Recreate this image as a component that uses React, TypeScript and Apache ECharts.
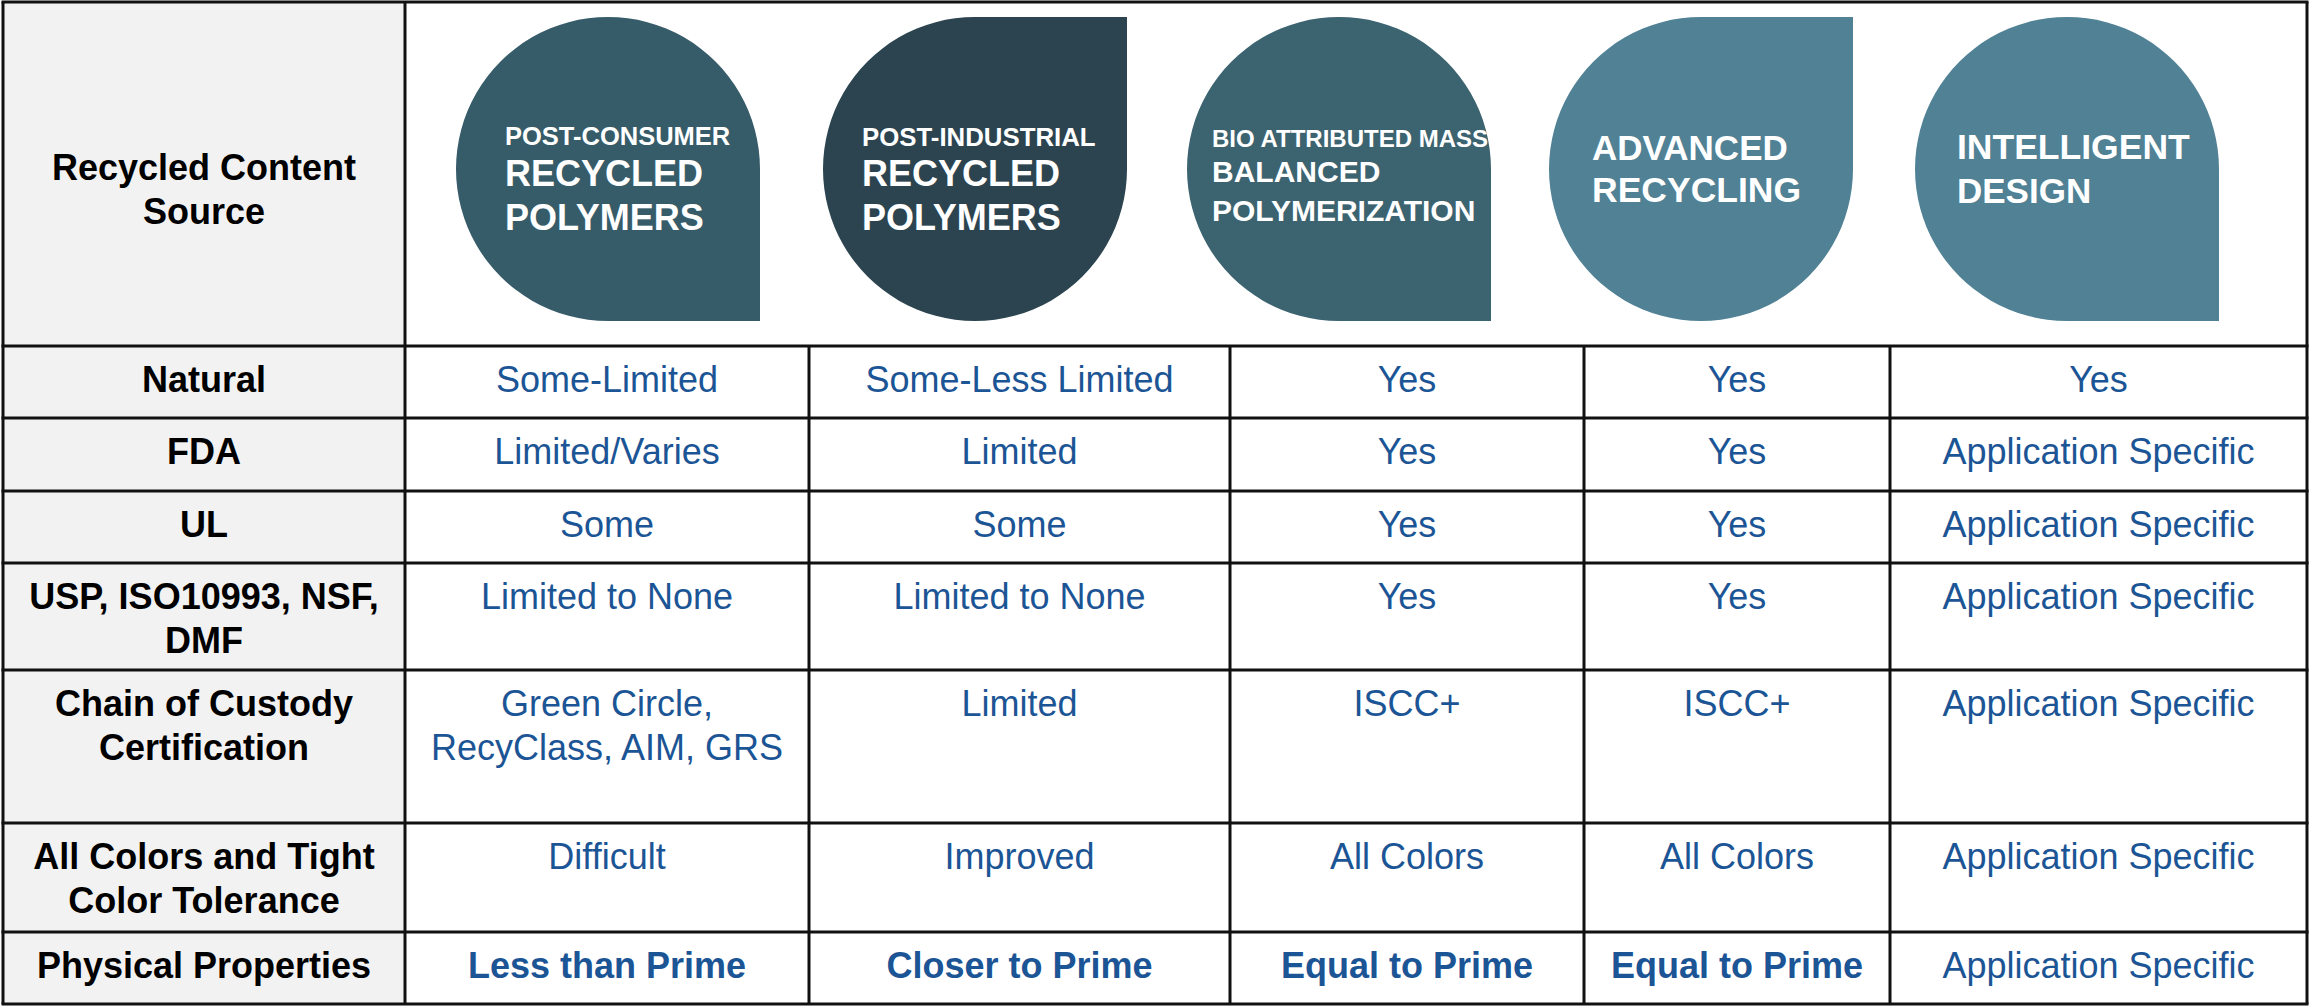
import React, { useEffect, useRef } from "react";
import * as echarts from "echarts";

const headerTitle = ["Recycled Content", "Source"];

const sourceTitles: string[][] = [
  ["POST-CONSUMER", "RECYCLED", "POLYMERS"],
  ["POST-INDUSTRIAL", "RECYCLED", "POLYMERS"],
  ["BIO ATTRIBUTED MASS", "BALANCED", "POLYMERIZATION"],
  ["ADVANCED", "RECYCLING"],
  ["INTELLIGENT", "DESIGN"],
];

const rowLabels: string[][] = [
  ["Natural"],
  ["FDA"],
  ["UL"],
  ["USP, ISO10993, NSF,", "DMF"],
  ["Chain of Custody", "Certification"],
  ["All Colors and Tight", "Color Tolerance"],
  ["Physical Properties"],
];

const postConsumer: string[][] = [
  ["Some-Limited"], ["Limited/Varies"], ["Some"], ["Limited to None"],
  ["Green Circle,", "RecyClass, AIM, GRS"], ["Difficult"], ["Less than Prime"],
];
const postIndustrial: string[][] = [
  ["Some-Less Limited"], ["Limited"], ["Some"], ["Limited to None"],
  ["Limited"], ["Improved"], ["Closer to Prime"],
];
const bioMassBalance: string[][] = [
  ["Yes"], ["Yes"], ["Yes"], ["Yes"], ["ISCC+"], ["All Colors"], ["Equal to Prime"],
];
const advancedRecycling: string[][] = [
  ["Yes"], ["Yes"], ["Yes"], ["Yes"], ["ISCC+"], ["All Colors"], ["Equal to Prime"],
];
const intelligentDesign: string[][] = [
  ["Yes"], ["Application Specific"], ["Application Specific"], ["Application Specific"],
  ["Application Specific"], ["Application Specific"], ["Application Specific"],
];
const columnValues = [postConsumer, postIndustrial, bioMassBalance, advancedRecycling, intelligentDesign];
const boldLastRow = [true, true, true, true, false];

// layout
const colX = [3, 405, 809, 1230, 1584, 1890, 2307];
const rowY = [2, 346, 418, 491, 563, 670, 823, 932, 1004];
const shapeCx = [608, 975, 1339, 1701, 2067];
const shapeCorner = ["br", "tr", "br", "tr", "br"];
const shapeColors = ["#365b69", "#2c4450", "#3c6370", "#508195", "#508195"];
const shapeTextX = [
  [505, 505, 505],
  [862, 862, 862],
  [1212, 1212, 1212],
  [1592, 1592],
  [1957, 1957],
];
const shapeTextY = [
  [136, 173, 217],
  [137, 173, 217],
  [138, 171, 210],
  [147, 190],
  [147, 190],
];
const shapeTextSize = [
  [25.5, 36, 36],
  [25.8, 36, 36],
  [24, 30, 30],
  [35, 35.5],
  [35.5, 35],
];

const FONT = "'Liberation Sans', Arial, Helvetica, sans-serif";
const BLUE = "#1c5595";

function txt(text: string, x: number, y: number, size: number, bold: boolean, fill: string, align = "center") {
  return {
    type: "text",
    silent: true,
    z: 10,
    style: {
      text,
      x,
      y,
      fill,
      fontSize: size,
      fontWeight: bold ? "bold" : "normal",
      fontFamily: FONT,
      align,
      verticalAlign: "middle",
      textAlign: align,
      textVerticalAlign: "middle",
    },
  };
}

export default function App() {
  const ref = useRef<HTMLDivElement>(null);
  useEffect(() => {
    document.body.style.margin = "0";
    if (!ref.current) return;
    const chart = echarts.init(ref.current, undefined, { renderer: "svg" });
    const els: any[] = [];
    const W = 2310, H = 1006;
    els.push({ type: "rect", shape: { x: 0, y: 0, width: W, height: H }, style: { fill: "#ffffff" }, z: 0 });
    // grey first column
    els.push({
      type: "rect",
      shape: { x: colX[0], y: rowY[0], width: colX[1] - colX[0], height: rowY[rowY.length - 1] - rowY[0] },
      style: { fill: "#f2f2f2" },
      z: 1,
    });
    // header shapes
    const r = 152, cy = 169;
    shapeCx.forEach((cx, i) => {
      const fill = shapeColors[i];
      els.push({ type: "circle", shape: { cx, cy, r }, style: { fill }, z: 2 });
      const ry = shapeCorner[i] === "br" ? cy : cy - r;
      els.push({ type: "rect", shape: { x: cx, y: ry, width: r, height: r }, style: { fill }, z: 2 });
      sourceTitles[i].forEach((t, j) => {
        els.push(txt(t, shapeTextX[i][j], shapeTextY[i][j], shapeTextSize[i][j], true, "#ffffff", "left"));
      });
    });
    // header title
    const c0 = (colX[0] + colX[1]) / 2;
    headerTitle.forEach((t, j) => els.push(txt(t, c0, 167 + j * 44, 36, true, "#000000")));
    // body
    const LH = 44, PAD = 33;
    rowLabels.forEach((lines, ri) => {
      const top = rowY[ri + 1];
      lines.forEach((t, j) => els.push(txt(t, c0, top + PAD + j * LH, 36, true, "#000000")));
      columnValues.forEach((col, ci) => {
        const cx = (colX[ci + 1] + colX[ci + 2]) / 2;
        const bold = ri === rowLabels.length - 1 && boldLastRow[ci];
        col[ri].forEach((t, j) => els.push(txt(t, cx, top + PAD + j * LH, 36, bold, BLUE)));
      });
    });
    // grid lines
    const stroke = "#111111";
    rowY.forEach((y) => {
      els.push({ type: "line", shape: { x1: colX[0] - 1.5, y1: y, x2: colX[6] + 1.5, y2: y }, style: { stroke, lineWidth: 3 }, z: 5 });
    });
    colX.forEach((x, i) => {
      const y1 = i === 0 || i === 1 || i === 6 ? rowY[0] : rowY[1];
      els.push({ type: "line", shape: { x1: x, y1, x2: x, y2: rowY[rowY.length - 1] }, style: { stroke, lineWidth: 3 }, z: 5 });
    });
    chart.setOption({ animation: false, graphic: { elements: els } });
    return () => chart.dispose();
  }, []);
  return <div ref={ref} style={{ width: 2310, height: 1006 }} />;
}
